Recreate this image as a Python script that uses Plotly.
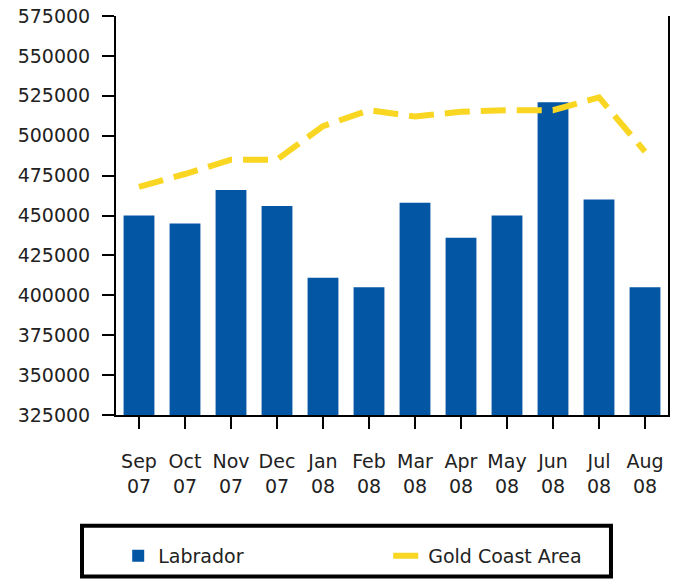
import plotly.graph_objects as go

months = ["Sep<br>07", "Oct<br>07", "Nov<br>07", "Dec<br>07", "Jan<br>08", "Feb<br>08",
          "Mar<br>08", "Apr<br>08", "May<br>08", "Jun<br>08", "Jul<br>08", "Aug<br>08"]
labrador = [450000, 445000, 466000, 456000, 411000, 405000,
            458000, 436000, 450000, 521000, 460000, 405000]
gold_coast = [468000, 476000, 485000, 485000, 506000, 516000,
              512000, 515000, 516000, 516000, 524000, 490000]
y_ticks = [325000, 350000, 375000, 400000, 425000, 450000, 475000, 500000, 525000, 550000, 575000]

FONT = "DejaVu Sans"
TXT = "#222222"

fig = go.Figure()
fig.add_trace(go.Bar(x=months, y=labrador, name="Labrador",
                     marker=dict(color="#0256A3", line=dict(width=0))))
fig.add_trace(go.Scatter(x=months, y=gold_coast, name="Gold Coast Area", mode="lines",
                         line=dict(color="#F8D622", width=6, dash="25px,11px")))

fig.update_layout(
    width=674, height=579,
    margin=dict(l=116, r=6, t=16, b=163),
    paper_bgcolor="white", plot_bgcolor="white",
    font=dict(family=FONT, size=19, color=TXT),
    bargap=0.33,
    showlegend=True,
    legend=dict(orientation="h", x=0.004, xanchor="left", y=-0.35, yanchor="middle",
                bgcolor="rgba(0,0,0,0)", borderwidth=0,
                entrywidth=225, entrywidthmode="pixels",
                font=dict(family=FONT, size=19, color=TXT)),
    shapes=[dict(type="rect", xref="paper", yref="paper",
                 x0=-0.0616, x1=0.8967, y0=-0.405, y1=-0.2775,
                 line=dict(color="black", width=4), fillcolor="rgba(0,0,0,0)")],
)
fig.update_xaxes(showline=True, linecolor="black", linewidth=2, mirror=False,
                 ticks="outside", ticklen=12, tickwidth=2, tickcolor="black",
                 ticklabelstandoff=16, automargin=False,
                 showgrid=False, tickfont=dict(family=FONT, size=19, color=TXT))
fig.update_yaxes(range=[325000, 575000], tickvals=y_ticks, tickformat="d",
                 showline=True, linecolor="black", linewidth=2, mirror=True,
                 ticks="outside", ticklen=12, tickwidth=2, tickcolor="black",
                 ticklabelstandoff=8, automargin=False, ticklabeloverflow="allow",
                 showgrid=False, zeroline=False,
                 tickfont=dict(family=FONT, size=19, color=TXT))

# remove the browser's default 8px page margin so the figure fills the window
fig.write_html("out.html", config={"displayModeBar": False},
               post_script="document.body.style.margin='0px';")
